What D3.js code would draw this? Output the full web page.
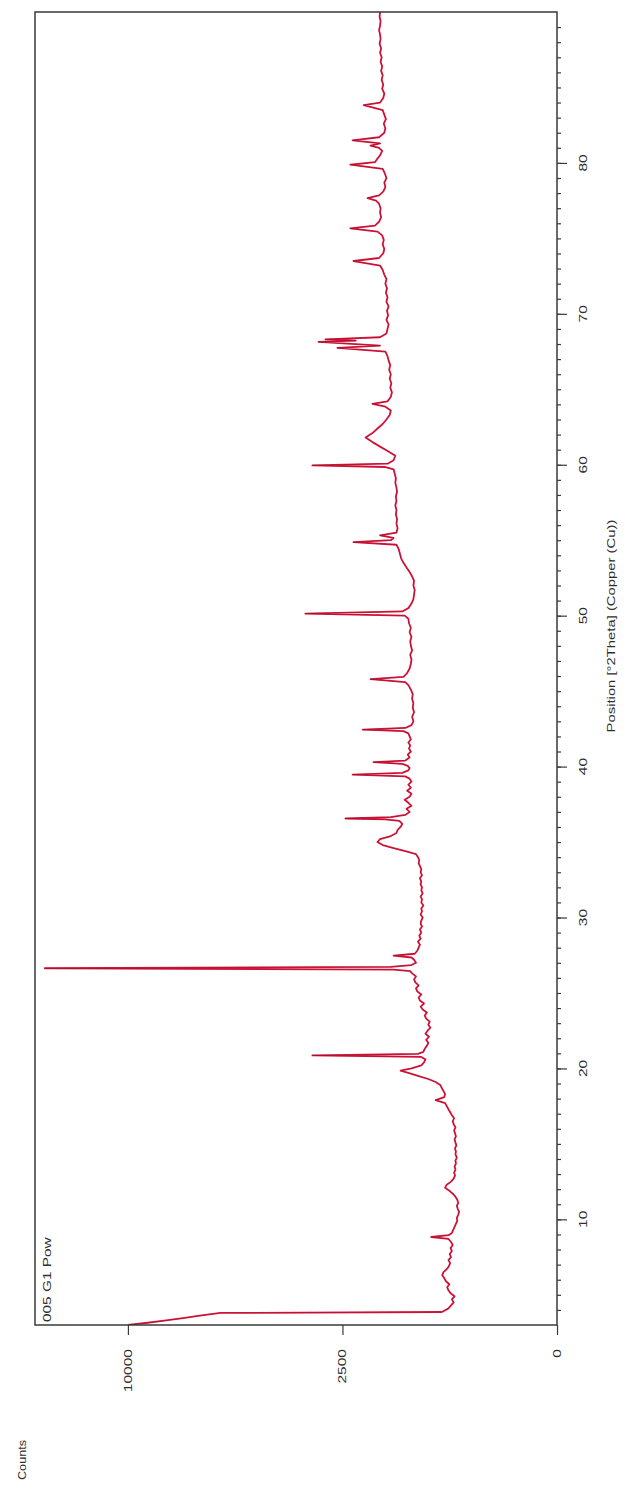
<!DOCTYPE html>
<html>
<head>
<meta charset="utf-8">
<script src="https://cdn.jsdelivr.net/npm/d3@7"></script>
<style>
  html, body { margin: 0; padding: 0; background: #ffffff; }
  svg { display: block; }
  text { font-family: "Liberation Sans", Arial, sans-serif; fill: #2e2e2e; }
</style>
</head>
<body>
<svg id="chart" width="631" height="1507"></svg>
<script>
// ---- data ----
const twoTheta = [
  3.00, 3.15, 3.30, 3.45, 3.60, 3.72, 3.80, 3.86, 3.95, 4.10,
  4.30, 4.50, 4.70, 4.90, 5.10, 5.30, 5.50, 5.70, 5.90, 6.10,
  6.30, 6.50, 6.70, 6.90, 7.10, 7.30, 7.50, 7.70, 7.90, 8.10,
  8.30, 8.50, 8.70, 8.83, 8.95, 9.10, 9.30, 9.50, 9.70, 9.90,
  10.1, 10.3, 10.5, 10.7, 10.9, 11.1, 11.3, 11.5, 11.7, 11.9,
  12.1, 12.3, 12.5, 12.7, 12.9, 13.1, 13.3, 13.5, 13.7, 13.9,
  14.1, 14.3, 14.5, 14.7, 14.9, 15.1, 15.3, 15.5, 15.7, 15.9,
  16.1, 16.3, 16.5, 16.7, 16.9, 17.1, 17.3, 17.5, 17.7, 17.9,
  18.1, 18.3, 18.5, 18.7, 18.9, 19.1, 19.3, 19.5, 19.7, 19.85,
  20.0, 20.2, 20.4, 20.6, 20.76, 20.86, 20.96, 21.1, 21.3, 21.5,
  21.7, 21.9, 22.1, 22.3, 22.5, 22.7, 22.9, 23.1, 23.3, 23.5,
  23.7, 23.9, 24.1, 24.3, 24.5, 24.7, 24.9, 25.1, 25.3, 25.5,
  25.7, 25.9, 26.1, 26.3, 26.45, 26.55, 26.64, 26.73, 26.85, 27.0,
  27.2, 27.35, 27.47, 27.6, 27.8, 28.0, 28.2, 28.4, 28.6, 28.8,
  29.0, 29.2, 29.4, 29.6, 29.8, 30.0, 30.2, 30.4, 30.6, 30.8,
  31.0, 31.2, 31.4, 31.6, 31.8, 32.0, 32.2, 32.4, 32.6, 32.8,
  33.0, 33.2, 33.4, 33.6, 33.8, 34.0, 34.2, 34.4, 34.6, 34.8,
  35.0, 35.2, 35.4, 35.6, 35.8, 36.0, 36.2, 36.4, 36.5, 36.56,
  36.65, 36.8, 37.0, 37.2, 37.4, 37.6, 37.8, 38.0, 38.2, 38.4,
  38.6, 38.8, 39.0, 39.2, 39.35, 39.47, 39.58, 39.75, 39.9, 40.05,
  40.18, 40.29, 40.4, 40.6, 40.8, 41.0, 41.2, 41.4, 41.6, 41.8,
  42.0, 42.2, 42.35, 42.45, 42.56, 42.75, 43.0, 43.3, 43.6, 43.9,
  44.2, 44.5, 44.8, 45.1, 45.4, 45.6, 45.79, 45.95, 46.2, 46.5,
  46.8, 47.1, 47.4, 47.7, 48.0, 48.3, 48.6, 48.9, 49.2, 49.5,
  49.8, 50.0, 50.14, 50.28, 50.5, 50.8, 51.1, 51.4, 51.7, 52.0,
  52.3, 52.6, 52.9, 53.2, 53.5, 53.8, 54.1, 54.4, 54.7, 54.87,
  55.0, 55.15, 55.32, 55.5, 55.8, 56.1, 56.4, 56.7, 57.0, 57.3,
  57.6, 57.9, 58.2, 58.5, 58.8, 59.1, 59.4, 59.7, 59.85, 59.96,
  60.08, 60.3, 60.6, 60.9, 61.2, 61.5, 61.8, 62.1, 62.4, 62.7,
  63.0, 63.3, 63.6, 63.85, 64.04, 64.2, 64.5, 64.8, 65.1, 65.4,
  65.7, 66.0, 66.3, 66.6, 66.9, 67.2, 67.5, 67.74, 67.9, 68.14,
  68.22, 68.31, 68.45, 68.7, 69.0, 69.3, 69.6, 69.9, 70.2, 70.5,
  70.8, 71.1, 71.4, 71.7, 72.0, 72.3, 72.6, 72.9, 73.2, 73.5,
  73.7, 74.0, 74.3, 74.6, 74.9, 75.2, 75.45, 75.66, 75.85, 76.1,
  76.4, 76.7, 77.0, 77.3, 77.5, 77.67, 77.85, 78.1, 78.4, 78.7,
  79.0, 79.3, 79.6, 79.88, 80.05, 80.25, 80.5, 80.8, 81.0, 81.15,
  81.3, 81.5, 81.7, 82.0, 82.3, 82.6, 82.9, 83.2, 83.5, 83.83,
  84.0, 84.3, 84.6, 84.9, 85.2, 85.5, 85.8, 86.1, 86.4, 86.7,
  87.0, 87.3, 87.6, 87.9, 88.2, 88.5, 88.8, 89.1, 89.4, 89.7,
  90.0
];
const counts = [
  10000, 9100, 8300, 7600, 7000, 6500, 6150, 720, 690, 640,
  610, 580, 600, 570, 615, 640, 655, 630, 670, 690,
  715, 700, 660, 635, 620, 640, 610, 625, 600, 615,
  590, 610, 640, 860, 640, 600, 585, 570, 555, 540,
  545, 530, 520, 535, 545, 530, 540, 560, 590, 630,
  680, 660, 610, 580, 565, 575, 560, 570, 555, 560,
  545, 560, 555, 565, 550, 560, 570, 555, 565, 575,
  560, 580, 590, 575, 600, 620, 640, 660, 680, 800,
  690, 680, 700, 720, 740, 800, 900, 1050, 1200, 1330,
  1150, 1000, 960, 940, 1000, 3250, 1050, 970, 950, 920,
  900, 930, 890, 940, 910, 870, 900, 880, 930, 950,
  920, 980, 1010, 960, 1020, 1040, 1000, 1060, 1080, 1040,
  1090, 1110, 1080, 1140, 1170, 1450, 14250, 1500, 1150, 1080,
  1110, 1150, 1450, 1100, 1060, 1040, 1020, 1050, 1010, 1030,
  1000, 1020, 990, 1010, 1000, 980, 1010, 990, 1000, 970,
  1000, 990, 1010, 980, 1000, 990, 1010, 1000, 1020, 990,
  1010, 1000, 1020, 1040, 1030, 1050, 1080, 1250, 1450, 1650,
  1750, 1700, 1500, 1400, 1380, 1330, 1300, 1350, 1600, 2430,
  1500, 1250, 1180, 1230, 1150, 1200, 1260, 1180, 1150, 1220,
  1160, 1200, 1150, 1180, 1250, 2270, 1300, 1200, 1180, 1210,
  1300, 1830, 1250, 1180, 1210, 1160, 1190, 1170, 1200, 1160,
  1180, 1200, 1280, 2050, 1250, 1150, 1120, 1140, 1110, 1130,
  1120, 1140, 1130, 1160, 1200, 1250, 1890, 1280, 1220, 1180,
  1160, 1150, 1170, 1140, 1160, 1170, 1150, 1180, 1160, 1190,
  1200, 1260, 3440, 1300, 1200, 1150, 1120, 1110, 1100, 1120,
  1110, 1140, 1180, 1230, 1280, 1320, 1340, 1360, 1400, 2250,
  1500, 1450, 1700, 1400, 1380, 1400, 1390, 1410, 1400, 1420,
  1400, 1410, 1390, 1400, 1420, 1410, 1430, 1450, 1600, 3250,
  1550, 1450, 1420, 1550, 1700, 1850, 1990, 1850, 1750, 1650,
  1580, 1520, 1500, 1600, 1850, 1560, 1500, 1480, 1510, 1490,
  1520, 1500, 1530, 1510, 1540, 1560, 1600, 2620, 1700, 3090,
  2200, 2910, 1700, 1580, 1560, 1540, 1580, 1550, 1570, 1540,
  1580, 1560, 1590, 1570, 1600, 1580, 1620, 1650, 1700, 2250,
  1720, 1640, 1620, 1650, 1630, 1660, 1750, 2320, 1800, 1720,
  1680, 1700, 1690, 1720, 1780, 1950, 1720, 1640, 1600, 1620,
  1580, 1610, 1650, 2320, 1800, 1760, 1700, 1660, 1720, 1890,
  1700, 2270, 1720, 1620, 1600, 1630, 1590, 1620, 1650, 2030,
  1700, 1640, 1620, 1660, 1640, 1670, 1650, 1680, 1660, 1690,
  1670, 1700, 1680, 1710, 1690, 1700, 1720, 1700, 1690, 1710,
  1700
];
const thetaDomain = [3, 90];
const countMax = 14800;
const thetaMajorTicks = [10, 20, 30, 40, 50, 60, 70, 80];
const countTicks = [0, 2500, 10000];
const seriesLabel = "005 G1 Pow";
const xTitle = "Position [°2Theta] (Copper (Cu))";
const yTitle = "Counts";

// ---- layout (chart is drawn rotated: 2Theta runs bottom->top, counts run right->left) ----
const frame = { left: 35, right: 557, top: 12, bottom: 1325 };
const svg = d3.select("#chart");

const tScale = d3.scaleLinear().domain(thetaDomain).range([frame.bottom, frame.top]);
const cScale = d3.scaleSqrt().domain([0, countMax]).range([frame.right, frame.left]);

const data = twoTheta.map((t, i) => ({ t, c: counts[i] }));

svg.append("clipPath").attr("id", "clip")
  .append("rect")
  .attr("x", frame.left).attr("y", frame.top)
  .attr("width", frame.right - frame.left).attr("height", frame.bottom - frame.top);

const line = d3.line().x(d => cScale(d.c)).y(d => tScale(d.t));

const plot = svg.append("g").attr("clip-path", "url(#clip)");
plot.append("path").datum(data)
  .attr("d", line)
  .attr("fill", "none")
  .attr("stroke", "#e8163f")
  .attr("stroke-width", 1.8)
  .attr("stroke-linejoin", "round");
plot.append("path").datum(data)
  .attr("d", line)
  .attr("fill", "none")
  .attr("stroke", "#4a1822")
  .attr("stroke-width", 0.6)
  .attr("stroke-opacity", 0.55);

// frame
svg.append("rect")
  .attr("x", frame.left).attr("y", frame.top)
  .attr("width", frame.right - frame.left).attr("height", frame.bottom - frame.top)
  .attr("fill", "none").attr("stroke", "#3a3a3a").attr("stroke-width", 1.5);

// 2Theta axis (right side)
const minor = svg.append("g").attr("transform", `translate(${frame.right},0)`)
  .call(d3.axisRight(tScale).tickValues(d3.range(4, 90, 1)).tickSize(4).tickFormat(""));
const major = svg.append("g").attr("transform", `translate(${frame.right},0)`)
  .call(d3.axisRight(tScale).tickValues(thetaMajorTicks).tickSize(10).tickFormat(""));
// counts axis (bottom)
const cAxis = svg.append("g").attr("transform", `translate(0,${frame.bottom})`)
  .call(d3.axisBottom(cScale).tickValues(countTicks).tickSize(10).tickFormat(""));
[minor, major, cAxis].forEach(g => {
  g.select(".domain").remove();
  g.selectAll("line").attr("stroke", "#3a3a3a").attr("stroke-width", 1.2);
});

const stretch = "scale(1.35,1)";
const fs = 11.5;

// theta tick labels
svg.append("g").selectAll("text").data(thetaMajorTicks).join("text")
  .attr("transform", d => `translate(587,${tScale(d)}) rotate(-90) ${stretch}`)
  .attr("text-anchor", "middle")
  .attr("font-size", fs)
  .text(d => d);

// count tick labels
svg.append("g").selectAll("text").data(countTicks).join("text")
  .attr("transform", d => `translate(${cScale(d)},1349) rotate(-90) ${stretch}`)
  .attr("text-anchor", "end")
  .attr("dy", "0.35em")
  .attr("font-size", fs)
  .text(d => d);

// axis titles
svg.append("text")
  .attr("transform", `translate(615,626) rotate(-90) ${stretch}`)
  .attr("text-anchor", "middle")
  .attr("font-size", 11)
  .text(xTitle);

svg.append("text")
  .attr("transform", `translate(26,1460) rotate(-90) scale(1.15,1)`)
  .attr("text-anchor", "middle")
  .attr("font-size", 11)
  .text(yTitle);

// series label
svg.append("text")
  .attr("transform", `translate(51,1322) rotate(-90) scale(1.4,1)`)
  .attr("text-anchor", "start")
  .attr("font-size", 11)
  .text(seriesLabel);
</script>
</body>
</html>
